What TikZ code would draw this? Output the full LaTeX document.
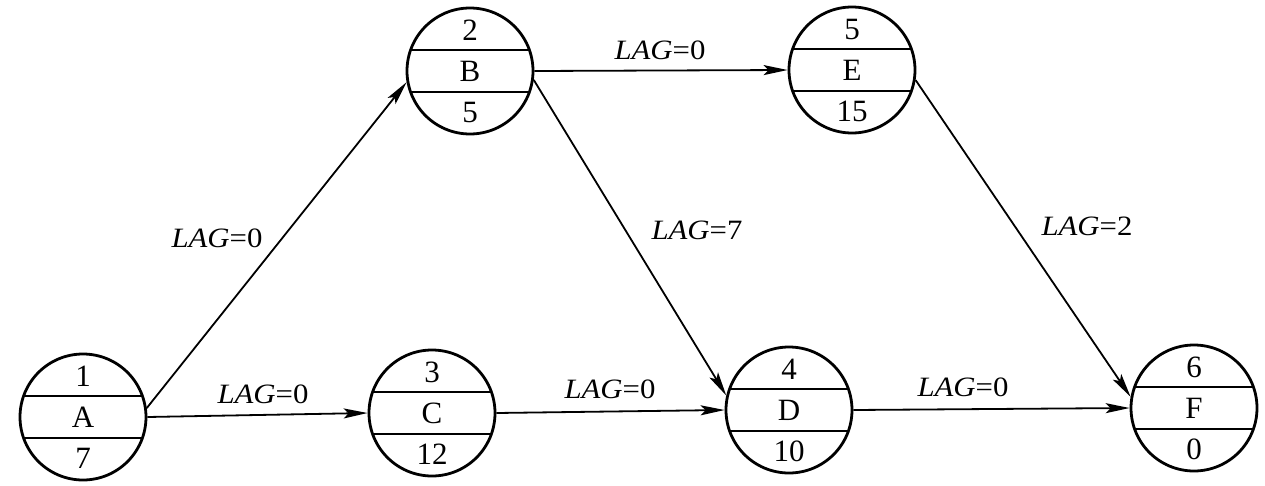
\documentclass[tikz,border=0pt]{standalone}
\usepackage{fontspec}
\setmainfont{Liberation Serif}
\usetikzlibrary{arrows.meta}
\tikzset{
  act/.style={circle, draw, line width=2.8pt, minimum size=126pt, inner sep=0pt},
  sep/.style={line width=2.8pt},
  fld/.style={font=\fontsize{31}{31}\selectfont, inner sep=0pt},
  conn/.style={line width=1.8pt, -{Stealth[length=24pt,width=10pt,inset=5pt]}},
  lag/.style={font=\fontsize{28}{28}\selectfont, inner sep=0pt},
}
\newcommand\actnode[6]{%
  \node[act] (#1) at (#2,#3) {};
  \draw[sep] (#2-59.4,#3-21) -- (#2+59.4,#3-21);
  \draw[sep] (#2-59.4,#3+21) -- (#2+59.4,#3+21);
  \node[fld] (#1-top) at (#2,#3-41) {#4};
  \node[fld] (#1-mid) at (#2,#3) {#5};
  \node[fld] (#1-bot) at (#2,#3+41) {#6};
}
\newcommand\lagtext[1]{\scalebox{1.1}[1]{\textit{LAG}=#1}}
\begin{document}
\begin{tikzpicture}[x=1pt,y=-1pt]
  \useasboundingbox (0,0) rectangle (1265,485);
  \fill[white] (0,0) rectangle (1265,485);
  \actnode{A}{83}{417}{1}{A}{7}
  \actnode{B}{470}{71}{2}{B}{5}
  \actnode{C}{432}{413}{3}{C}{12}
  \actnode{D}{789}{410}{4}{D}{10}
  \actnode{E}{852}{70}{5}{E}{15}
  \actnode{F}{1194}{408}{6}{F}{0}

  \draw[conn] (A.8) -- (B.190);
  \draw[conn] (A.east) -- (C.west);
  \draw[conn] (B.east) -- (E.west);
  \draw[conn] (B.-8) -- (D.167);
  \draw[conn] (C.east) -- (D.west);
  \draw[conn] (D.east) -- (F.west);
  \draw[conn] (E.-9) -- (F.170);

  \node[lag] (lab-AB) at (217,238) {\lagtext{0}};
  \node[lag] (lab-AC) at (263,394) {\lagtext{0}};
  \node[lag] (lab-BE) at (660,50) {\lagtext{0}};
  \node[lag] (lab-BD) at (697,230) {\lagtext{7}};
  \node[lag] (lab-CD) at (610,389) {\lagtext{0}};
  \node[lag] (lab-DF) at (963,387) {\lagtext{0}};
  \node[lag] (lab-EF) at (1087,226) {\lagtext{2}};
\end{tikzpicture}
\end{document}
